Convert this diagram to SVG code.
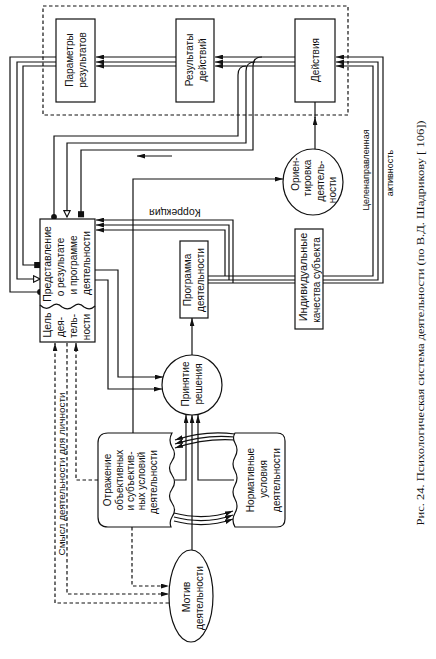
<svg xmlns="http://www.w3.org/2000/svg" width="436" height="659" viewBox="0 0 436 659">
<style>
.ln{fill:none;stroke:#111;stroke-width:1.2}
.ds{fill:none;stroke:#111;stroke-width:1.2;stroke-dasharray:3.5,2.5}
.bx{fill:#fff;stroke:#111;stroke-width:1.2}
.t{font-family:"Liberation Sans",Arial,sans-serif;font-size:10px;fill:#111;text-anchor:middle;dominant-baseline:central}
.cap{font-family:"Liberation Serif","Times New Roman",serif;font-size:11px;fill:#111;text-anchor:middle;dominant-baseline:central}
</style>
<defs>
<marker id="ah" viewBox="0 0 10 6" refX="10" refY="3" markerWidth="8" markerHeight="5" orient="auto" markerUnits="userSpaceOnUse"><path d="M0,0 L10,3 L0,6 z" fill="#111"/></marker>
<marker id="dot" viewBox="0 0 8 8" refX="4" refY="4" markerWidth="7" markerHeight="7" orient="auto" markerUnits="userSpaceOnUse"><circle cx="4" cy="4" r="3.3" fill="#111"/></marker>
<marker id="sq" viewBox="0 0 8 8" refX="6" refY="4" markerWidth="7" markerHeight="7" orient="auto" markerUnits="userSpaceOnUse"><rect x="0.5" y="0.5" width="7" height="7" fill="#111"/></marker>
<marker id="tri" viewBox="0 0 10 10" refX="9" refY="5" markerWidth="8" markerHeight="8" orient="auto" markerUnits="userSpaceOnUse"><path d="M1,1 L9,5 L1,9 z" fill="#fff" stroke="#111" stroke-width="1.4"/></marker>
</defs>
<rect width="436" height="659" fill="#fff"/>
<rect x="43" y="6" width="305" height="109" class="ds"/>

<g id="connectors">
<path class="ln" d="M176,57 H96" marker-end="url(#ah)"/>
<path class="ln" d="M176,62 H96" marker-end="url(#ah)"/>
<path class="ln" d="M176,66 H96" marker-end="url(#ah)"/>
<path class="ln" d="M295,57 H215" marker-end="url(#ah)"/>
<path class="ln" d="M295,62 H215" marker-end="url(#ah)"/>
<path class="ln" d="M295,66 H215" marker-end="url(#ah)"/>
<path class="ln" d="M262,57 Q253,57 253,66 V150 H81 V216" marker-end="url(#sq)"/>
<path class="ln" d="M255,62 Q246,62 246,71 V143 H67 V217" marker-end="url(#tri)"/>
<path class="ln" d="M246,66 Q238,66 238,75 V136 H54 V217" marker-end="url(#dot)"/>
<path class="ln" d="M56,66 H23 V265 H39" marker-end="url(#sq)"/>
<path class="ln" d="M56,62 H17 V279 H40" marker-end="url(#tri)"/>
<path class="ln" d="M56,57 H10 V292 H40" marker-end="url(#dot)"/>
<path class="ln" d="M208,276 H373 V66 H336" marker-end="url(#ah)"/>
<path class="ln" d="M208,280 H378 V62 H336" marker-end="url(#ah)"/>
<path class="ln" d="M208,283 H383 V57 H336" marker-end="url(#ah)"/>
<path class="ln" d="M225,276 V230 H96" marker-end="url(#ah)"/>
<path class="ln" d="M229,280 V225 H96" marker-end="url(#ah)"/>
<path class="ln" d="M233,283 V220 H96" marker-end="url(#ah)"/>
<path class="ln" d="M172,156 H137" marker-end="url(#ah)"/>
<path class="ln" d="M133,433 V179 H283" marker-end="url(#ah)"/>
<path class="ln" d="M315,149 V117" marker-end="url(#ah)"/>
<path class="ln" d="M315,118 V102"/>
<path class="ln" d="M95,270 H118 V377 H163" marker-end="url(#ah)"/>
<path class="ln" d="M95,280 H108 V389 H162" marker-end="url(#ah)"/>
<path class="ln" d="M192,355 V318" marker-end="url(#ah)"/>
<path class="ln" d="M172,480 H186 V415" marker-end="url(#ah)"/>
<path class="ln" d="M192,550 V415" marker-end="url(#ah)"/>
<path class="ln" d="M234,480 H198 V415" marker-end="url(#ah)"/>
<path class="ln" d="M235,434 Q205,430 175,440" marker-end="url(#ah)"/>
<path class="ln" d="M235,437 Q205,434 175,444" marker-end="url(#ah)"/>
<path class="ln" d="M235,440 Q205,438 175,448" marker-end="url(#ah)"/>
<path class="ln" d="M174,513 Q205,521 233,511" marker-end="url(#ah)"/>
<path class="ln" d="M174,517 Q205,525 233,515" marker-end="url(#ah)"/>
<path class="ln" d="M174,521 Q205,529 233,519" marker-end="url(#ah)"/>
<path class="ds" d="M169,603 H55 V343" marker-end="url(#ah)"/>
<path class="ds" d="M67,343 V594 H169" marker-end="url(#ah)"/>
<path class="ds" d="M98,480 H76 V343" marker-end="url(#ah)"/>
<path class="ds" d="M132,527 V586 H169" marker-end="url(#ah)"/>
</g>

<g id="parametry">
<rect class="bx" x="56" y="19" width="39" height="83"/>
<text class="t" transform="translate(69,60) rotate(-90)">Параметры</text>
<text class="t" transform="translate(82,60) rotate(-90)">результатов</text>
</g>
<g id="rezultaty">
<rect class="bx" x="176" y="19" width="38" height="83"/>
<text class="t" transform="translate(189,60) rotate(-90)">Результаты</text>
<text class="t" transform="translate(202,60) rotate(-90)">действий</text>
</g>
<g id="deystviya">
<rect class="bx" x="295" y="19" width="40" height="83"/>
<text class="t" transform="translate(315,60) rotate(-90)">Действия</text>
</g>
<g id="predstavlenie">
<rect class="bx" x="40" y="219" width="55" height="123"/>
<path class="ln" d="M40,305 Q46,311 52,306 Q57,302 62,307 Q68,311 74,306 Q79,302 84,307 Q90,311 95,306"/>
<text class="t" style="font-size:10.5px" transform="translate(47,264) rotate(-90)">Представление</text>
<text class="t" transform="translate(60,267) rotate(-90)">о результате</text>
<text class="t" transform="translate(73,265) rotate(-90)">и программе</text>
<text class="t" transform="translate(86,263) rotate(-90)">деятельности</text>
<text class="t" style="font-size:10.5px" transform="translate(47,325) rotate(-90)">Цель</text>
<text class="t" transform="translate(60,327) rotate(-90)">дея-</text>
<text class="t" transform="translate(73,326) rotate(-90)">тель-</text>
<text class="t" transform="translate(86,327) rotate(-90)">ности</text>
</g>
<g id="korrekciya">
<text class="t" style="font-size:10.5px" transform="translate(175,213) rotate(180)">Коррекция</text>
</g>
<g id="programma">
<rect class="bx" x="180" y="241" width="28" height="77"/>
<text class="t" transform="translate(187,280) rotate(-90)">Программа</text>
<text class="t" transform="translate(200,280) rotate(-90)">деятельности</text>
</g>
<g id="kachestva">
<rect class="bx" x="295" y="229" width="28" height="100"/>
<text class="t" style="font-size:11px" transform="translate(303,277) rotate(-90)">Индивидуальные</text>
<text class="t" transform="translate(316,280) rotate(-90)">качества субъекта</text>
</g>
<g id="orientirovka">
<ellipse class="bx" cx="313" cy="182" rx="30" ry="33"/>
<text class="t" transform="translate(295,174) rotate(-90)">Ориен-</text>
<text class="t" transform="translate(307,178) rotate(-90)">тировка</text>
<text class="t" transform="translate(320,181) rotate(-90)">деятель-</text>
<text class="t" transform="translate(332,190) rotate(-90)">ности</text>
</g>
<g id="aktivnost">
<text class="t" style="font-size:9px" transform="translate(366,170) rotate(-90)">Целенаправленная</text>
<text class="t" style="font-size:9px" transform="translate(390,173) rotate(-90)">активность</text>
</g>
<g id="prinyatie">
<circle class="bx" cx="192" cy="385" r="30"/>
<text class="t" transform="translate(185,384) rotate(-90)">Принятие</text>
<text class="t" transform="translate(198,384) rotate(-90)">решения</text>
</g>
<g id="otrazhenie">
<path class="bx" d="M108,433 H172 Q168,440 172,447 Q177,454 172,461 Q167,468 172,475 Q177,482 172,489 Q167,496 172,503 Q177,510 172,517 Q169,522 171,527 H108 Q98,527 98,517 V443 Q98,433 108,433 Z"/>
<text class="t" transform="translate(107,480) rotate(-90)">Отражение</text>
<text class="t" transform="translate(119,480) rotate(-90)">объективных</text>
<text class="t" transform="translate(130,481) rotate(-90)">и субъектив-</text>
<text class="t" transform="translate(141,481) rotate(-90)">ных условий</text>
<text class="t" transform="translate(153,482) rotate(-90)">деятельности</text>
</g>
<g id="normativnye">
<path class="bx" d="M235,433 H277 Q285,433 285,441 V519 Q285,527 277,527 H235 Q231,520 235,513 Q239,506 235,499 Q231,492 235,485 Q239,478 235,471 Q231,464 235,457 Q239,450 235,443 Q232,438 235,433 Z"/>
<text class="t" transform="translate(250,480) rotate(-90)">Нормативные</text>
<text class="t" transform="translate(263,479) rotate(-90)">условия</text>
<text class="t" transform="translate(276,480) rotate(-90)">деятельности</text>
</g>
<g id="motiv">
<ellipse class="bx" cx="191" cy="596" rx="22" ry="46"/>
<text class="t" style="font-size:10.5px" transform="translate(186,597) rotate(-90)">Мотив</text>
<text class="t" transform="translate(199,598) rotate(-90)">деятельности</text>
</g>
<g id="smysl">
<text class="t" style="font-size:9.5px" transform="translate(61,474) rotate(-90)" textLength="163" lengthAdjust="spacingAndGlyphs">Смысл деятельности для личности</text>
</g>
<g id="caption">
<text class="cap" transform="translate(420,323) rotate(-90)" textLength="405" lengthAdjust="spacingAndGlyphs">Рис. 24. Психологическая система деятельности (по В.Д. Шадрикову [ 106])</text>
</g>
</svg>
